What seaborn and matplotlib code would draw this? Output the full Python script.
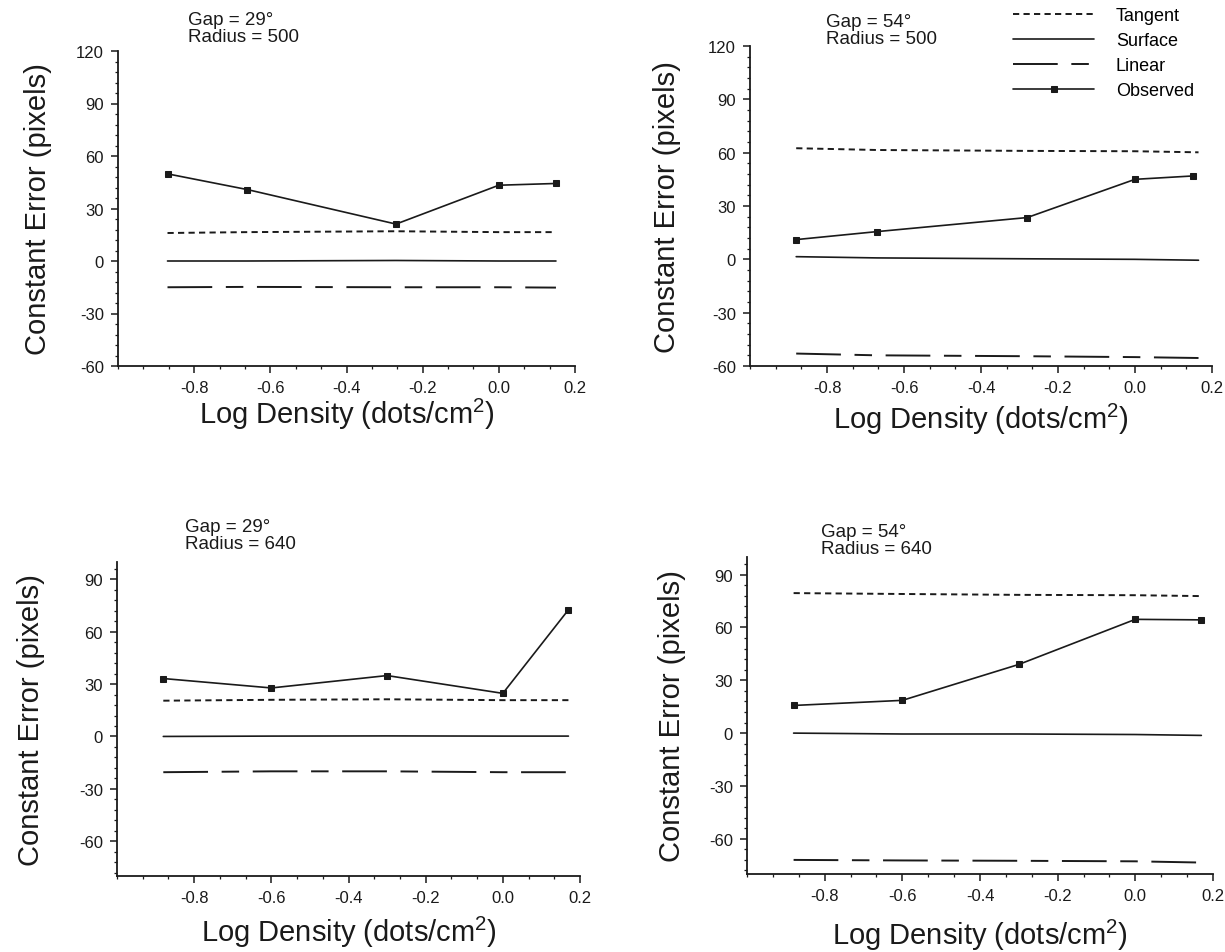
import numpy as np
import pandas as pd
import matplotlib
matplotlib.use("Agg")
import matplotlib.pyplot as plt
from matplotlib.ticker import AutoMinorLocator
import seaborn as sns

# ---------------- data ----------------
# Top-left: Gap = 29°, Radius = 500
tl_density = [-0.87, -0.66, -0.27, 0.0, 0.15]
tl_observed = [49.8, 40.8, 21.1, 43.3, 44.3]
tl_tangent = [16.0, 16.5, 17.0, 16.5, 16.5]
tl_surface = [0.0, 0.0, 0.3, 0.0, 0.0]
tl_linear = [-15.0, -14.8, -15.0, -15.0, -15.2]

# Top-right: Gap = 54°, Radius = 500
tr_density = [-0.88, -0.67, -0.28, 0.0, 0.15]
tr_model_density = [-0.88, -0.67, -0.28, 0.0, 0.165]
tr_observed = [11.1, 15.6, 23.5, 45.0, 46.9]
tr_tangent = [62.5, 61.5, 61.0, 60.8, 60.2]
tr_surface = [1.5, 0.8, 0.3, 0.0, -0.5]
tr_linear = [-53.0, -54.0, -54.5, -55.0, -55.5]

# Bottom-left: Gap = 29°, Radius = 640
bl_density = [-0.88, -0.60, -0.30, 0.0, 0.17]
bl_observed = [33.2, 27.8, 34.9, 24.7, 72.6]
bl_tangent = [20.5, 21.0, 21.3, 20.8, 20.8]
bl_surface = [0.0, 0.2, 0.3, 0.2, 0.2]
bl_linear = [-20.5, -20.0, -20.0, -20.5, -20.5]

# Bottom-right: Gap = 54°, Radius = 640
br_density = [-0.88, -0.60, -0.30, 0.0, 0.17]
br_observed = [15.7, 18.6, 39.0, 64.6, 64.3]
br_tangent = [79.5, 79.0, 78.5, 78.3, 77.8]
br_surface = [0.0, -0.5, -0.5, -0.8, -1.3]
br_linear = [-72.0, -72.3, -72.5, -72.8, -73.5]

panel_titles = ["Gap = 29°\nRadius = 500", "Gap = 54°\nRadius = 500",
                "Gap = 29°\nRadius = 640", "Gap = 54°\nRadius = 640"]
series_names = ["Tangent", "Surface", "Linear", "Observed"]
y_ticks_top = [-60, -30, 0, 30, 60, 90, 120]
y_ticks_bottom = [-60, -30, 0, 30, 60, 90]
x_ticks = [-0.8, -0.6, -0.4, -0.2, 0.0, 0.2]

# ---------------- style ----------------
sns.set_theme(style="ticks")
plt.rcParams["font.family"] = ["Liberation Sans", "DejaVu Sans"]
plt.rcParams["mathtext.fontset"] = "custom"
plt.rcParams["mathtext.rm"] = "Liberation Sans"
plt.rcParams["mathtext.it"] = "Liberation Sans"
plt.rcParams["axes.unicode_minus"] = False
plt.rcParams["text.color"] = "black"
plt.rcParams["axes.labelcolor"] = "black"
plt.rcParams["xtick.color"] = "black"
plt.rcParams["ytick.color"] = "black"

W, H = 1225, 953
fig = plt.figure(figsize=(W / 100, H / 100), dpi=100)


def frac_box(l, t, r, b):
    return [l / W, 1 - b / H, (r - l) / W, (b - t) / H]


boxes = [frac_box(118, 52, 575, 367), frac_box(750, 47, 1212, 367),
         frac_box(117, 563, 580, 877), frac_box(747, 558, 1213, 875)]

panels = [
    (tl_density, tl_density, tl_observed, tl_tangent, tl_surface, tl_linear, (-60, 120), y_ticks_top),
    (tr_density, tr_model_density, tr_observed, tr_tangent, tr_surface, tr_linear, (-60, 120), y_ticks_top),
    (bl_density, bl_density, bl_observed, bl_tangent, bl_surface, bl_linear, (-80, 100), y_ticks_bottom),
    (br_density, br_density, br_observed, br_tangent, br_surface, br_linear, (-80, 100), y_ticks_bottom),
]

ylabel_x = [-0.145, -0.15, -0.155, -0.13]
xlabel_y = [-0.095, -0.11, -0.12, -0.135]
title_pos = [(188, 12), (826, 14), (185, 519), (821, 524)]

lw = 1.2
styles = {
    "Tangent": dict(linestyle=(0, (3.2, 2.2)), linewidth=1.4),
    "Surface": dict(linestyle="-", linewidth=lw),
    "Linear": dict(linestyle=(0, (23, 7, 9, 7)), linewidth=1.4),
    "Observed": dict(linestyle="-", linewidth=lw, marker="s", markersize=5,
                     markeredgecolor="k", markerfacecolor="k"),
}

axes = []
for i, (xd, xm, obs, tan, sur, lin, ylim, yt) in enumerate(panels):
    ax = fig.add_axes(boxes[i])
    axes.append(ax)
    model_df = pd.DataFrame({"density": xm, "Tangent": tan, "Surface": sur, "Linear": lin})
    obs_df = pd.DataFrame({"density": xd, "Observed": obs})
    for name in ["Tangent", "Surface", "Linear"]:
        sns.lineplot(data=model_df, x="density", y=name, ax=ax, color="k",
                     label=name, legend=False, **styles[name])
    sns.lineplot(data=obs_df, x="density", y="Observed", ax=ax, color="k",
                 label="Observed", legend=False, **styles["Observed"])

    ax.set_xlim(-1.0, 0.2)
    ax.set_ylim(*ylim)
    ax.set_xticks(x_ticks)
    ax.set_xticklabels([f"{v:.1f}" for v in x_ticks])
    ax.set_yticks(yt)
    ax.xaxis.set_minor_locator(AutoMinorLocator(3))
    ax.yaxis.set_minor_locator(AutoMinorLocator(5))
    ax.tick_params(which="major", direction="out", length=5, width=1.1,
                   labelsize=12, colors="k", pad=5)
    ax.tick_params(which="minor", direction="out", length=2.5, width=0.9, colors="k")
    for s in ["top", "right"]:
        ax.spines[s].set_visible(False)
    for s in ["left", "bottom"]:
        ax.spines[s].set_linewidth(1.3)
        ax.spines[s].set_color("k")
    ax.set_facecolor("white")

    ax.set_ylabel("Constant Error (pixels)", fontsize=21, color="k")
    ax.yaxis.set_label_coords(ylabel_x[i], 0.5)
    ax.set_xlabel("Log Density (dots/cm$^2$)", fontsize=21, color="k")
    ax.xaxis.set_label_coords(0.5, xlabel_y[i])

    tx, ty = title_pos[i]
    fig.text(tx / W, 1 - ty / H, panel_titles[i], fontsize=13.5, ha="left", va="top",
             linespacing=1.0, color="k")

# legend (top-right)
handles = axes[1].get_lines()
fig.legend(handles=handles, labels=series_names, loc="upper left",
           bbox_to_anchor=(1013 / W, 1 - 8 / H), frameon=False, fontsize=13,
           handlelength=4.5, handletextpad=1.2, labelspacing=0.45,
           borderpad=0, borderaxespad=0, numpoints=1)

fig.savefig("out.png", dpi=100, facecolor="white")
